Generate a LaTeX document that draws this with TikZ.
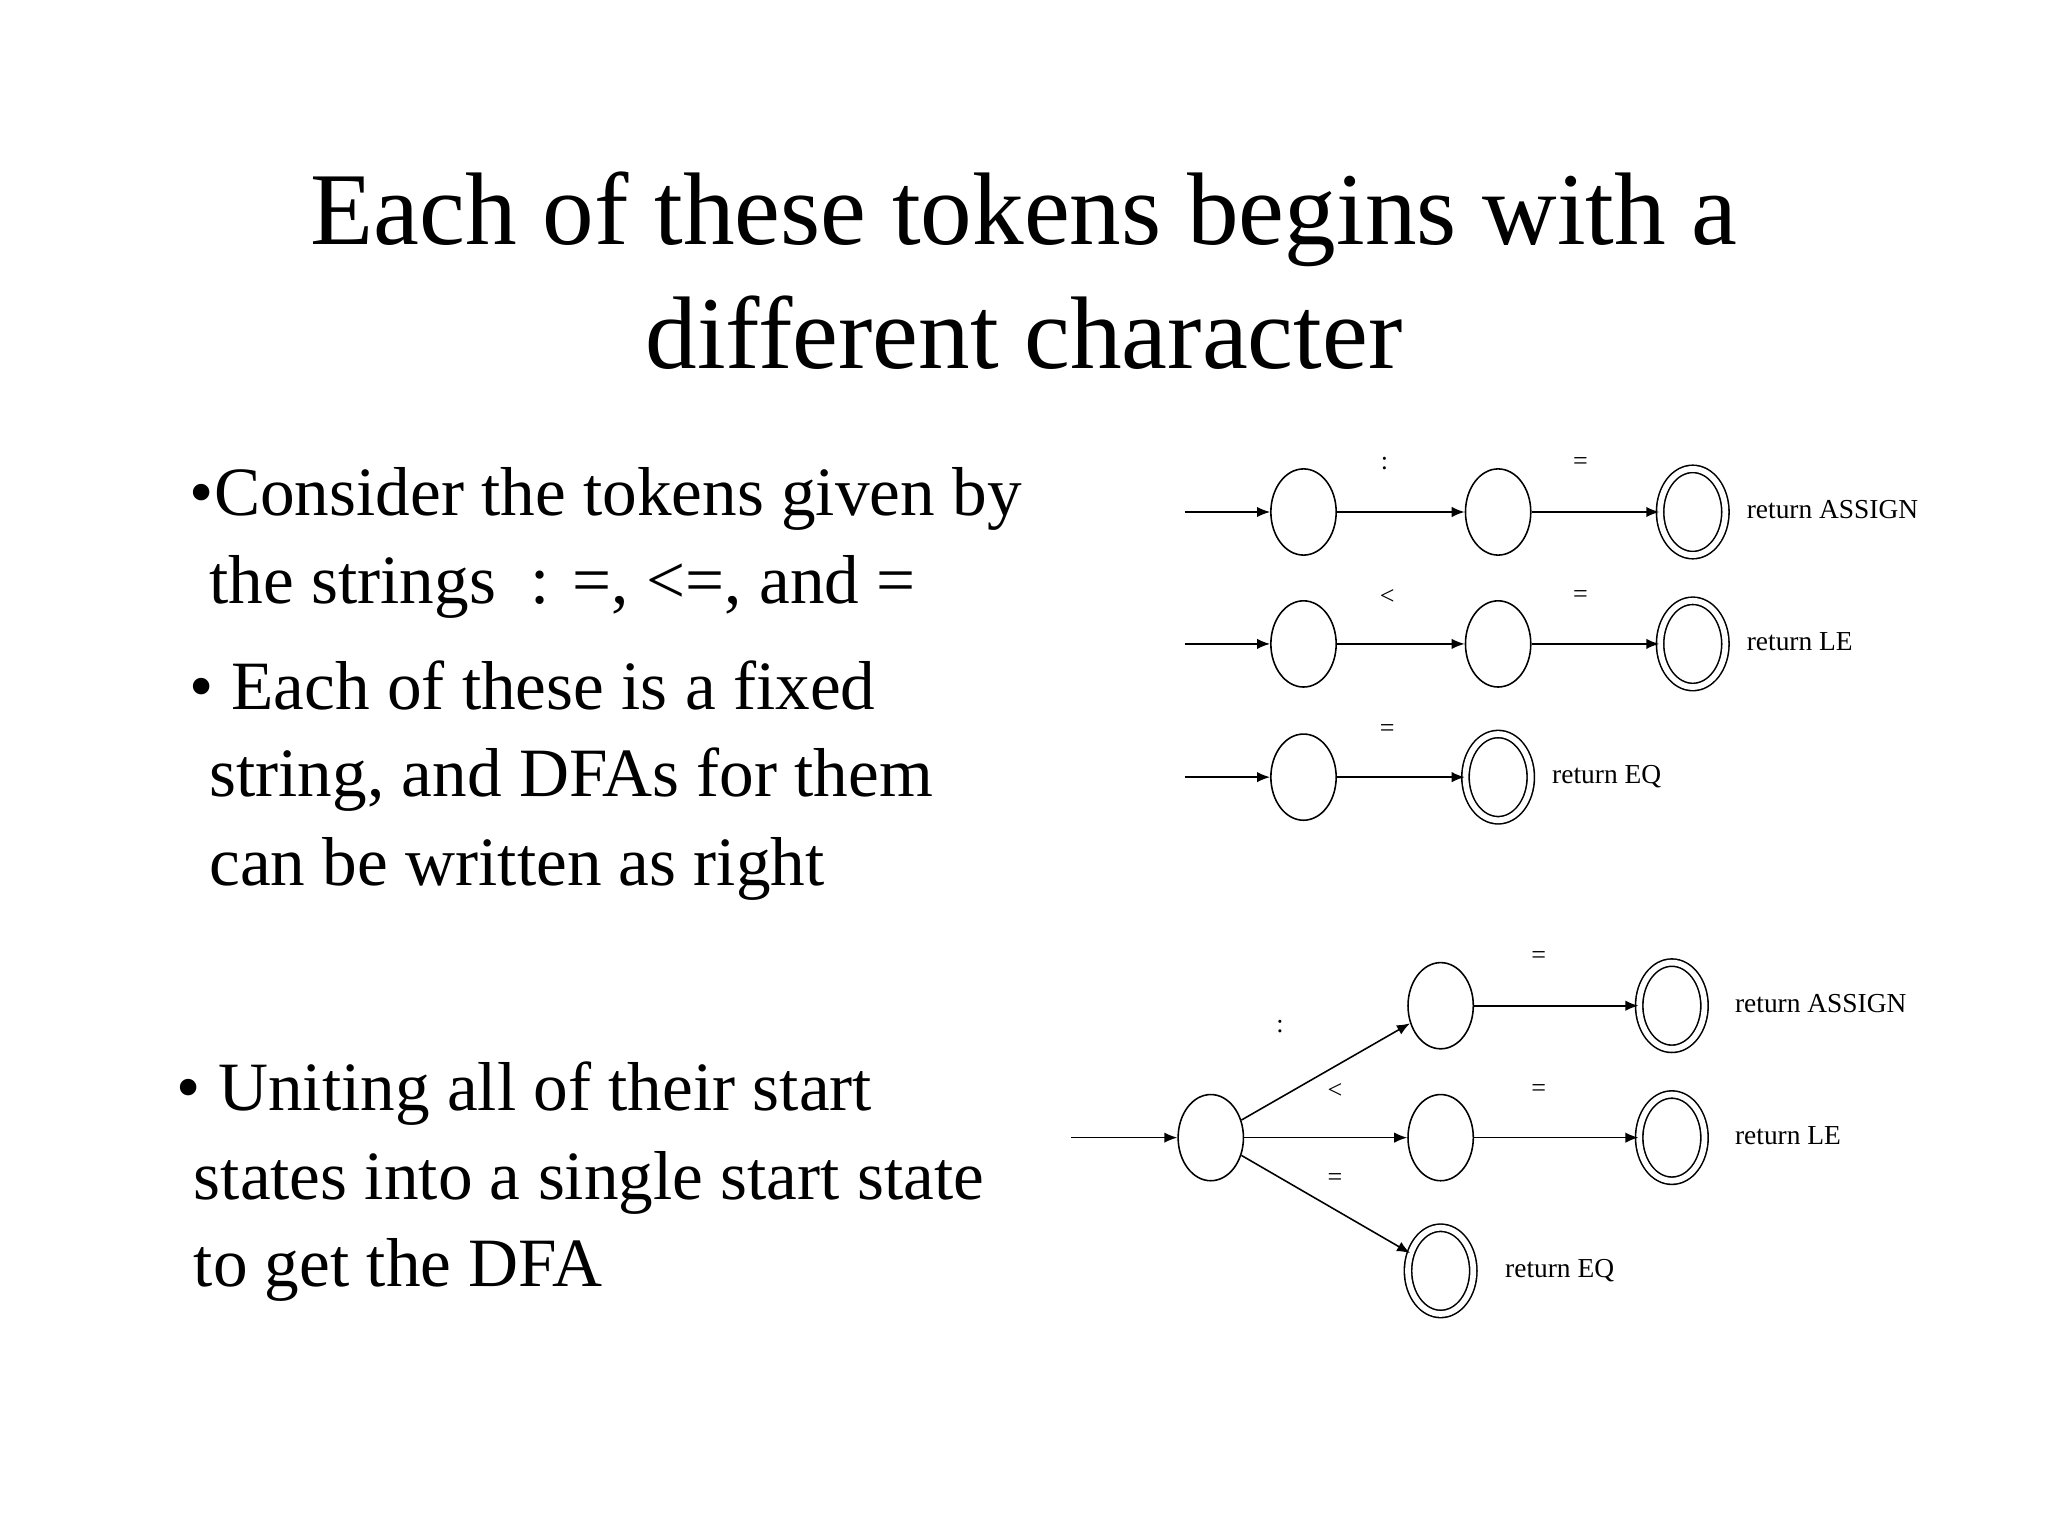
\documentclass[tikz,border=0pt]{standalone}
\usepackage{fontspec}
\setmainfont{Liberation Serif}
\usetikzlibrary{shapes.geometric,arrows.meta}
\begin{document}
\begin{tikzpicture}[x=0.5pt,y=-0.5pt,
  st/.style={ellipse,draw,line width=0.6pt,minimum width=25pt,minimum height=33pt,inner sep=0pt},
  acc/.style={st,double,double distance=2.2pt},
  ed/.style={-{Latex[length=5pt,width=4pt]},line width=0.6pt},
  lab/.style={font=\fontsize{10}{12}\selectfont,inner sep=0pt},
  ret/.style={font=\fontsize{10.5}{12}\selectfont,anchor=base west,inner sep=0pt},
  big/.style={font=\fontsize{26.5}{30}\selectfont,anchor=base west,inner sep=0pt}]
\useasboundingbox (0,0) rectangle (1568,1176);
\node[font=\fontsize{39.5}{44}\selectfont,anchor=base,inner sep=0pt] (t1) at (784,187) {Each of these tokens begins with a};
\node[font=\fontsize{39.5}{44}\selectfont,anchor=base,inner sep=0pt] (t2) at (784,282) {different character};
\node[big] (b1) at (145,395) {•Consider the tokens given by};
\node[big] (b2) at (160,462) {the strings\ \ : =, <=, and =};
\node[big] (b3) at (145,543) {• Each of these is a fixed};
\node[big] (b4) at (160,610) {string, and DFAs for them};
\node[big] (b5) at (160,678) {can be written as right};
\node[big] (b6) at (135,850) {• Uniting all of their start};
\node[big] (b7) at (148,918) {states into a single start state};
\node[big] (b8) at (148,985) {to get the DFA};
% row 1
\coordinate (s1) at (907,392);
\node[st] (a1) at (998,392) {};
\node[st] (a2) at (1147,392) {};
\node[acc] (a3) at (1296,392) {};
\draw[ed] (s1) -- (a1);
\draw[ed] (a1) -- (a2);
\draw[ed] (a2) -- (a3);
\node[lab] (la1) at (1060,355) {:};
\node[lab] (la2) at (1210,355) {=};
\node[ret] (ra) at (1337,397) {return ASSIGN};
% row 2
\coordinate (s2) at (907,493);
\node[st] (c1) at (998,493) {};
\node[st] (c2) at (1147,493) {};
\node[acc] (c3) at (1296,493) {};
\draw[ed] (s2) -- (c1);
\draw[ed] (c1) -- (c2);
\draw[ed] (c2) -- (c3);
\node[lab] (lc1) at (1062,457) {<};
\node[lab] (lc2) at (1210,457) {=};
\node[ret] (rc) at (1337,498) {return LE};
% row 3
\coordinate (s3) at (907,595);
\node[st] (e1) at (998,595) {};
\node[acc] (e2) at (1147,595) {};
\draw[ed] (s3) -- (e1);
\draw[ed] (e1) -- (e2);
\node[lab] (le1) at (1062,559) {=};
\node[ret] (re) at (1188,600) {return EQ};
% combined
\coordinate (s4) at (820,871);
\node[st] (q0) at (927,871) {};
\node[st] (qa) at (1103,770) {};
\node[st] (qb) at (1103,871) {};
\node[acc] (qc) at (1103,973) {};
\node[acc] (fa) at (1280,770) {};
\node[acc] (fb) at (1280,871) {};
\draw[ed] (s4) -- (q0);
\draw[ed] (q0) -- (qa);
\draw[ed] (q0) -- (qb);
\draw[ed] (q0) -- (qc);
\draw[ed] (qa) -- (fa);
\draw[ed] (qb) -- (fb);
\node[lab] (l1) at (980,786) {:};
\node[lab] (l2) at (1022,835) {<};
\node[lab] (l3) at (1022,903) {=};
\node[lab] (l4) at (1178,733) {=};
\node[lab] (l5) at (1178,835) {=};
\node[ret] (r1) at (1328,775) {return ASSIGN};
\node[ret] (r2) at (1328,876) {return LE};
\node[ret] (r3) at (1152,978) {return EQ};
\end{tikzpicture}
\end{document}
